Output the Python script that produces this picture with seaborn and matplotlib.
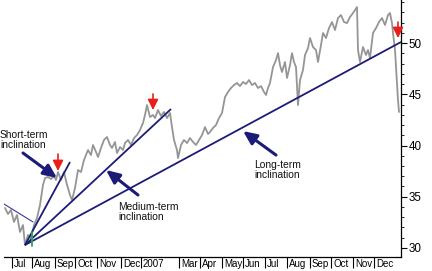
import matplotlib
matplotlib.use("Agg")
import matplotlib.pyplot as plt
import matplotlib.transforms as mtransforms
from matplotlib.ticker import MultipleLocator, FixedLocator
import seaborn as sns
import pandas as pd

# ---------------- data (trading-day index, price) ----------------
day = [-7, -4, -1, 2, 5, 8, 11, 13, 16, 19, 22, 25, 28, 31, 33, 36, 39, 42, 44,
       46, 49, 52, 55, 58, 60, 63, 66, 69, 72, 76, 79, 81, 84, 86, 89, 92, 95, 98,
       100, 103, 105, 108, 111, 113, 116, 119, 122, 125, 128, 131, 133, 135, 138,
       141, 143, 146, 149, 152, 155, 158, 160, 162, 165, 166, 169, 172, 175, 178,
       181, 184, 187, 190, 193, 196, 198, 201, 204, 207, 210, 213, 216, 219, 222,
       225, 228, 231, 234, 237, 240, 243, 246, 249, 252, 254, 256, 258, 261, 264,
       266, 268, 270, 273, 275, 278, 280, 282, 284, 286, 288, 291, 293, 296, 298,
       301, 304, 306, 309, 311, 314, 317, 320, 323, 326, 329, 332, 335, 338, 341,
       343, 345, 346, 348, 351, 354, 356, 358, 361, 364, 367, 370, 373, 376, 378,
       380, 381, 383, 385, 386, 387]
price = [33.90, 33.32, 33.71, 32.54, 33.22, 31.56, 32.24, 30.29, 31.27, 30.98,
         32.24, 32.93, 34.20, 36.15, 36.83, 36.93, 36.73, 37.02, 36.63, 37.41,
         36.63, 37.41, 36.15, 35.17, 34.68, 35.85, 37.61, 37.41, 38.59, 39.56,
         39.07, 40.05, 39.37, 38.88, 39.76, 40.54, 40.83, 40.05, 39.76, 40.34,
         39.27, 39.85, 39.56, 40.24, 40.54, 40.05, 40.73, 41.02, 41.51, 42.20,
         42.98, 43.95, 42.78, 42.98, 42.68, 43.46, 42.88, 43.27, 42.68, 43.17,
         41.80, 40.54, 39.56, 38.78, 40.05, 40.54, 40.24, 40.73, 40.34, 40.05,
         40.54, 41.02, 41.80, 41.12, 41.32, 41.71, 42.00, 42.68, 43.17, 44.73,
         45.22, 45.61, 45.90, 46.10, 45.80, 46.20, 46.00, 46.39, 45.90, 46.10,
         45.61, 45.80, 45.22, 44.93, 45.61, 46.10, 47.66, 48.34, 49.02, 47.85,
         47.17, 48.15, 46.59, 47.85, 49.02, 48.15, 47.66, 43.95, 46.39, 47.37,
         48.83, 49.51, 50.49, 49.61, 49.32, 48.15, 49.80, 50.98, 50.49, 51.46,
         52.05, 51.27, 52.44, 52.73, 52.05, 51.95, 52.54, 52.93, 53.22, 53.51,
         49.32, 48.15, 49.61, 48.83, 49.32, 48.54, 50.98, 51.46, 52.05, 52.44,
         51.76, 52.73, 52.93, 51.95, 50.98, 49.32, 46.10, 44.44, 43.27]
n = min(len(day), len(price))
df = pd.DataFrame({"day": day[:n], "price": price[:n]})

month_pos = [0, 20, 43, 63, 85, 109, 129, 167, 188, 210, 231, 253, 275, 298, 319, 341, 362]
month_labels = ["Jul", "Aug", "Sep", "Oct", "Nov", "Dec", "2007", "Mar", "Apr",
                "May", "Jun", "Jul", "Aug", "Sep", "Oct", "Nov", "Dec"]

# trend lines
pivot = (13, 30.29)
short_end = (58, 38.39)
medium_end = (159, 43.56)
long_end = (389, 50.10)
down_line = ((-8, 34.29), (21, 32.54))

# annotation texts and arrows
labels = ["Short-term\ninclination", "Medium-term\ninclination", "Long-term\ninclination"]
label_xy = [(-12, 40.54), (106, 33.51), (242, 37.61)]
arrow_tail = [(11, 39.27), (126, 35.17), (264, 39.07)]
arrow_tip = [(45, 36.83), (94, 37.61), (231, 41.41)]
red_arrows = [((46, 39.17), (46, 37.51)), ((141, 45.03), (141, 43.46)),
              ((386, 52.05), (386, 50.49))]
green_mark = ((20, 30.20), (20, 31.56))

# ---------------- figure ----------------
sns.set_style("white")
plt.rcParams["font.family"] = ["Liberation Sans", "DejaVu Sans"]

fig = plt.figure(figsize=(4.32, 2.71), dpi=100)
ax = fig.add_axes([4 / 432, 14 / 271, 397 / 432, 257 / 271])

NAVY = "#1c1c78"

sns.lineplot(data=df, x="day", y="price", ax=ax, color="#959595", lw=1.3,
             estimator=None, sort=False)

for end in (short_end, medium_end, long_end):
    ax.plot([pivot[0], end[0]], [pivot[1], end[1]], color=NAVY, lw=1.3,
            solid_capstyle="butt")
ax.plot([down_line[0][0], down_line[1][0]], [down_line[0][1], down_line[1][1]],
        color="#3a3a9a", lw=0.8)
ax.plot([green_mark[0][0], green_mark[1][0]], [green_mark[0][1], green_mark[1][1]],
        color="#2aa84a", lw=1.3)

for txt, xy in zip(labels, label_xy):
    ax.text(xy[0], xy[1], txt, fontsize=7.4, va="center", ha="left",
            linespacing=1.1, clip_on=False, color="#111111")
for tail, tip in zip(arrow_tail, arrow_tip):
    ax.annotate("", xy=tip, xytext=tail,
                arrowprops=dict(arrowstyle="-|>,head_length=1.0,head_width=0.45",
                                color=NAVY, lw=2.2, mutation_scale=8,
                                shrinkA=0, shrinkB=0))
for tail, tip in red_arrows:
    ax.annotate("", xy=tip, xytext=tail,
                arrowprops=dict(arrowstyle="-|>,head_length=0.7,head_width=0.35",
                                color="#e8201c", lw=1.2, mutation_scale=9,
                                shrinkA=0, shrinkB=0))

ax.set_xlim(-8, 389)
ax.set_ylim(29.12, 54.2)
ax.set_xlabel("")
ax.set_ylabel("")

for s in ("left", "top"):
    ax.spines[s].set_visible(False)
for s in ("bottom", "right"):
    ax.spines[s].set_color("black")
    ax.spines[s].set_linewidth(0.9)

ax.yaxis.tick_right()
ax.yaxis.set_major_locator(FixedLocator([30, 35, 40, 45, 50]))
ax.yaxis.set_minor_locator(MultipleLocator(1))
ax.tick_params(axis="y", which="major", direction="out", length=4, width=0.8,
               labelsize=8.4, pad=1.5, colors="black", right=True, left=False)
ax.tick_params(axis="y", which="minor", direction="out", length=2.5, width=0.7,
               right=True, left=False)

ax.set_xticks(month_pos)
ax.set_xticklabels(month_labels)
ax.tick_params(axis="x", which="major", direction="out", length=8, width=0.8,
               labelsize=7, pad=-6.5, bottom=True, colors="black")
offset = mtransforms.ScaledTranslation(2 / 100, 0, fig.dpi_scale_trans)
for lab in ax.get_xticklabels():
    lab.set_horizontalalignment("left")
    lab.set_transform(lab.get_transform() + offset)

ax.grid(False)
fig.savefig("out.png", dpi=100)
